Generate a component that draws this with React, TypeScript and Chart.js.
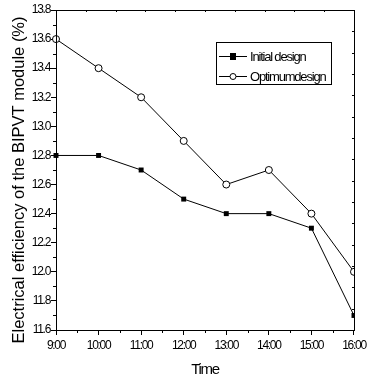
import React, { useEffect, useRef } from 'react';
import { Chart, registerables } from 'chart.js';

Chart.register(...registerables);

const times = ['9:00', '10:00', '11:00', '12:00', '13:00', '14:00', '15:00', '16:00'];
const initialDesign = [12.8, 12.8, 12.7, 12.5, 12.4, 12.4, 12.3, 11.7];
const optimumDesign = [13.6, 13.4, 13.2, 12.9, 12.6, 12.7, 12.4, 12.0];
const seriesNames = ['Initial design', 'Optimumdesign'];
const yTickValues = [11.6, 11.8, 12.0, 12.2, 12.4, 12.6, 12.8, 13.0, 13.2, 13.4, 13.6, 13.8];
const yAxisTitle = 'Electrical efficiency of the BIPVT module (%)';
const xAxisTitle = 'Time';

const FONT = '"Liberation Sans", Arial, sans-serif';

const framePlugin = {
  id: 'frame',
  beforeDraw(chart: any) {
    (chart.ctx as any).letterSpacing = '-1.3px';
  },
  afterDatasetsDraw(chart: any) {
    const { ctx, chartArea: a, scales } = chart;
    const y = scales.y;
    const x = scales.x;
    ctx.save();
    ctx.strokeStyle = '#000';
    ctx.lineWidth = 1;
    ctx.strokeRect(Math.round(a.left) + 0.5, Math.round(a.top) + 0.5, Math.round(a.right - a.left), Math.round(a.bottom - a.top));
    ctx.beginPath();
    // minor ticks on left axis
    for (let i = 0; i < yTickValues.length - 1; i++) {
      const v = (yTickValues[i] + yTickValues[i + 1]) / 2;
      const py = Math.round(y.getPixelForValue(v)) + 0.5;
      ctx.moveTo(a.left - 3, py);
      ctx.lineTo(a.left, py);
    }
    // minor ticks on bottom axis (half hours)
    for (let i = 0; i < times.length - 1; i++) {
      const px = Math.round(x.getPixelForValue(i + 0.5)) + 0.5;
      ctx.moveTo(px, a.bottom);
      ctx.lineTo(px, a.bottom + 3);
    }
    // small inward ticks on top axis
    const nTop = 10;
    for (let i = 1; i < nTop; i++) {
      const px = Math.round(a.left + ((a.right - a.left) * i) / nTop) + 0.5;
      ctx.moveTo(px, a.top);
      ctx.lineTo(px, a.top + 2);
    }
    // small inward ticks on right axis
    const nRight = 15;
    for (let i = 1; i < nRight; i++) {
      const py = Math.round(a.top + ((a.bottom - a.top) * i) / nRight) + 0.5;
      ctx.moveTo(a.right, py);
      ctx.lineTo(a.right - 2, py);
    }
    ctx.stroke();

    // legend
    const lx = a.left + 160;
    const ly = a.top + 32;
    const lw = 115;
    const lh = 42;
    ctx.fillStyle = '#fff';
    ctx.fillRect(lx, ly, lw, lh);
    ctx.strokeRect(Math.round(lx) + 0.5, Math.round(ly) + 0.5, lw, lh);
    const rows = [ly + 14, ly + 34];
    ctx.font = '13px ' + FONT;
    (ctx as any).letterSpacing = '-1.2px';
    ctx.textBaseline = 'middle';
    rows.forEach((ry, i) => {
      const yy = Math.round(ry) + 0.5;
      ctx.beginPath();
      ctx.moveTo(lx + 3, yy);
      ctx.lineTo(lx + 31, yy);
      ctx.strokeStyle = '#000';
      ctx.stroke();
      if (i === 0) {
        ctx.fillStyle = '#000';
        ctx.fillRect(lx + 14, yy - 3.5, 6, 7);
      } else {
        ctx.beginPath();
        ctx.arc(lx + 17, yy, 3, 0, Math.PI * 2);
        ctx.fillStyle = '#fff';
        ctx.fill();
        ctx.stroke();
      }
      ctx.fillStyle = '#000';
      ctx.fillText(seriesNames[i], lx + 34, ry + 1);
    });

    // y axis title
    (ctx as any).letterSpacing = '0px';
    ctx.font = '16.5px ' + FONT;
    ctx.textAlign = 'center';
    ctx.textBaseline = 'middle';
    ctx.translate(19, (a.top + a.bottom) / 2 + 10);
    ctx.rotate(-Math.PI / 2);
    ctx.fillText(yAxisTitle, 0, 0);
    ctx.restore();
  },
};

export default function App() {
  const ref = useRef<HTMLCanvasElement>(null);
  useEffect(() => {
    if (!ref.current) return;
    const clip = { left: false, top: false, right: 0, bottom: false } as any;
    const chart = new Chart(ref.current, {
      type: 'line',
      data: {
        labels: times,
        datasets: [
          {
            label: seriesNames[0],
            data: initialDesign,
            borderColor: '#000',
            borderWidth: 1,
            backgroundColor: '#000',
            pointStyle: 'rect',
            pointRadius: 3.5,
            pointBorderWidth: 0,
            pointBackgroundColor: '#000',
            tension: 0,
            clip,
          },
          {
            label: seriesNames[1],
            data: optimumDesign,
            borderColor: '#000',
            borderWidth: 1,
            pointStyle: 'circle',
            pointRadius: 3.5,
            pointBorderWidth: 1,
            pointBorderColor: '#000',
            pointBackgroundColor: '#fff',
            tension: 0,
            clip,
          },
        ],
      },
      options: {
        animation: false,
        responsive: false,
        layout: { padding: { top: 10, right: 15, left: 0, bottom: 0 } },
        plugins: { legend: { display: false }, tooltip: { enabled: false } },
        scales: {
          x: {
            type: 'category',
            offset: false,
            grid: { drawOnChartArea: false, drawTicks: true, tickLength: 5, color: '#000' },
            border: { display: false },
            ticks: { color: '#000', font: { family: FONT, size: 12 }, padding: 3, maxRotation: 0, autoSkip: false },
            title: { display: true, text: xAxisTitle, color: '#000', font: { family: FONT, size: 15 }, padding: { top: 0, bottom: 5 } },
            afterFit: (s: any) => { s.height = 54; },
          },
          y: {
            type: 'linear',
            min: 11.6,
            max: 13.8,
            afterBuildTicks: (s: any) => { s.ticks = yTickValues.map((v) => ({ value: v })); },
            grid: { drawOnChartArea: false, drawTicks: true, tickLength: 5, color: '#000' },
            border: { display: false },
            ticks: { color: '#000', font: { family: FONT, size: 12 }, padding: 1, callback: (v: any) => Number(v).toFixed(1) },
            title: { display: false },
            afterFit: (s: any) => { s.width = 56; },
          },
        },
      },
      plugins: [framePlugin],
    });
    return () => chart.destroy();
  }, []);
  return (
    <div style={{ position: 'absolute', left: 0, top: 0, width: 372, height: 384, background: '#fff' }}>
      <canvas ref={ref} width={372} height={384} style={{ display: 'block' }} />
    </div>
  );
}
